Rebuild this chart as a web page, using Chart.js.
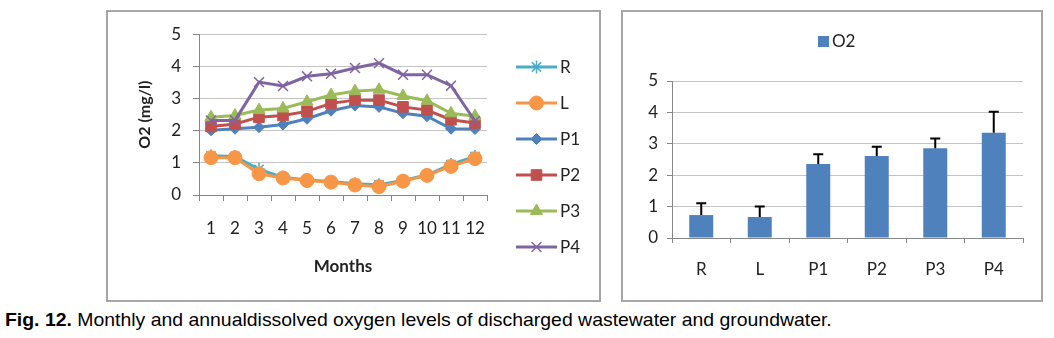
<!DOCTYPE html>
<html>
<head>
<meta charset="utf-8">
<script src="https://cdn.jsdelivr.net/npm/chart.js@4.4.0/dist/chart.umd.min.js"></script>
<style>
  body { margin:0; background:#fff; width:1054px; height:338px; overflow:hidden; position:relative; font-family:Lato, sans-serif; }
  .panel { position:absolute; top:10px; height:292px; box-sizing:border-box; border:2px solid #a6a6a6; background:#fff; }
  #p1 { left:106px; width:495px; }
  #p2 { left:621px; width:422px; }
  .panel canvas { display:block; }
  #cap { position:absolute; left:5px; top:309px; font-family:"Liberation Sans",Arial,sans-serif; font-size:18.5px; white-space:nowrap; transform-origin:0 0; color:#000; }
</style>
</head>
<body>
<div class="panel" id="p1"><canvas id="monthly" width="491" height="288"></canvas></div>
<div class="panel" id="p2"><canvas id="annual" width="418" height="288"></canvas></div>
<div id="cap"><b>Fig. 12.</b> Monthly and annualdissolved oxygen levels of discharged wastewater and groundwater.</div>
<script>
// monthly O2 (mg/l) per site
var months = ['1','2','3','4','5','6','7','8','9','10','11','12'];
var yTicks = [0, 1, 2, 3, 4, 5];
var oR  = [1.22, 1.20, 0.80, 0.55, 0.47, 0.42, 0.35, 0.32, 0.45, 0.62, 0.95, 1.20];
var oL  = [1.16, 1.16, 0.66, 0.53, 0.45, 0.40, 0.31, 0.26, 0.43, 0.61, 0.89, 1.13];
var oP1 = [2.01, 2.06, 2.11, 2.19, 2.37, 2.62, 2.78, 2.74, 2.54, 2.45, 2.06, 2.05];
var oP2 = [2.13, 2.21, 2.42, 2.47, 2.60, 2.85, 2.95, 2.95, 2.74, 2.64, 2.34, 2.24];
var oP3 = [2.42, 2.47, 2.64, 2.69, 2.90, 3.11, 3.23, 3.27, 3.08, 2.93, 2.54, 2.45];
var oP4 = [2.32, 2.32, 3.51, 3.39, 3.69, 3.77, 3.95, 4.10, 3.74, 3.74, 3.40, 2.30];

// annual mean + upper error
var sites  = ['R', 'L', 'P1', 'P2', 'P3', 'P4'];
var o2Mean = [0.73, 0.67, 2.36, 2.61, 2.86, 3.35];
var o2Err  = [0.38, 0.33, 0.31, 0.30, 0.31, 0.67];

var TXT = '#222', AXIS = '#868686', GRID = '#c4c4c4';
Chart.defaults.font.family = 'Lato, sans-serif';
Chart.defaults.font.size = 17;
Chart.defaults.color = TXT;

function setTicks(s) { s.ticks = yTicks.map(function(v){ return { value: v }; }); }

function series(label, data, color, style, radius, bw, order) {
  return {
    label: label, data: data, borderColor: color, backgroundColor: color,
    borderWidth: 3, tension: 0, pointStyle: style, pointRadius: radius,
    pointHoverRadius: radius, pointBackgroundColor: color, pointBorderColor: color,
    pointBorderWidth: bw, order: order
  };
}

// legend: line + marker, drawn on the canvas
var lineLegend = {
  id: 'lineLegend',
  afterDraw: function(chart) {
    var ctx = chart.ctx;
    chart.data.datasets.forEach(function(ds, i) {
      var y = 55 + i * 36, x0 = 408, x1 = 449;
      ctx.save();
      ctx.strokeStyle = ds.borderColor; ctx.lineWidth = 3;
      ctx.beginPath(); ctx.moveTo(x0, y); ctx.lineTo(x1, y); ctx.stroke();
      ctx.fillStyle = ds.pointBackgroundColor; ctx.strokeStyle = ds.pointBorderColor; ctx.lineWidth = ds.pointBorderWidth;
      if (Chart.helpers && Chart.helpers.drawPoint) {
        Chart.helpers.drawPoint(ctx, { pointStyle: ds.pointStyle, radius: ds.pointRadius, rotation: 0, borderWidth: ds.pointBorderWidth }, (x0 + x1) / 2, y);
      }
      ctx.fillStyle = TXT; ctx.font = '17px Lato, sans-serif'; ctx.textBaseline = 'middle';
      ctx.fillText(ds.label, x1 + 3, y + 1);
      ctx.restore();
    });
  }
};

new Chart(document.getElementById('monthly'), {
  type: 'line',
  data: {
    labels: months,
    datasets: [
      series('R',  oR,  '#4BACC6', 'star',     6.5, 1.5, 6),
      series('L',  oL,  '#F79646', 'circle',   7,   1,   5),
      series('P1', oP1, '#4F81BD', 'rectRot',  5.5, 1,   4),
      series('P2', oP2, '#C0504D', 'rect',     7.5, 1,   3),
      series('P3', oP3, '#9BBB59', 'triangle', 7,   1,   2),
      series('P4', oP4, '#8064A2', 'crossRot', 7,   1.5, 1)
    ]
  },
  options: {
    responsive: false, animation: false,
    layout: { padding: { left: 0, top: 21, right: 112, bottom: 0 } },
    plugins: { legend: { display: false }, tooltip: { enabled: false } },
    scales: {
      x: {
        offset: true,
        grid: { offset: true, drawOnChartArea: false, color: AXIS, tickLength: 6 },
        border: { color: AXIS },
        ticks: { autoSkip: false, maxRotation: 0, padding: 17 },
        title: { display: true, text: 'Months', font: { size: 17, weight: 'bold' }, padding: { top: 0, bottom: 23 } },
        afterFit: function(s) { s.height = 105; }
      },
      y: {
        min: 0, max: 5,
        afterBuildTicks: setTicks,
        grid: { color: GRID, tickColor: AXIS, tickLength: 6 },
        border: { color: AXIS },
        ticks: { padding: 12 },
        title: { display: true, text: 'O2 (mg/l)', font: { size: 16, weight: 'bold' }, padding: { top: 27, bottom: 0 } },
        afterFit: function(s) { s.width = 91; }
      }
    }
  },
  plugins: [lineLegend]
});

// error bars (plus side only) + legend for the bar chart
var errorBars = {
  id: 'errorBars',
  afterDatasetsDraw: function(chart) {
    var ctx = chart.ctx, meta = chart.getDatasetMeta(0), ys = chart.scales.y;
    ctx.save();
    ctx.strokeStyle = '#000'; ctx.lineWidth = 2;
    meta.data.forEach(function(bar, i) {
      var top = ys.getPixelForValue(o2Mean[i] + o2Err[i]);
      ctx.beginPath();
      ctx.moveTo(bar.x, bar.y); ctx.lineTo(bar.x, top);
      ctx.moveTo(bar.x - 5, top); ctx.lineTo(bar.x + 5, top);
      ctx.stroke();
    });
    ctx.restore();
  },
  afterDraw: function(chart) {
    var ctx = chart.ctx, ds = chart.data.datasets[0];
    ctx.save();
    ctx.fillStyle = ds.backgroundColor;
    ctx.fillRect(195, 24, 11, 11);
    ctx.fillStyle = TXT; ctx.font = '17px Lato, sans-serif'; ctx.textBaseline = 'middle';
    ctx.fillText(ds.label, 209, 30);
    ctx.restore();
  }
};

new Chart(document.getElementById('annual'), {
  type: 'bar',
  data: {
    labels: sites,
    datasets: [{ label: 'O2', data: o2Mean, backgroundColor: '#4F81BD', categoryPercentage: 1, barPercentage: 0.41 }]
  },
  options: {
    responsive: false, animation: false,
    layout: { padding: { left: 0, top: 69, right: 18, bottom: 0 } },
    plugins: { legend: { display: false }, tooltip: { enabled: false } },
    scales: {
      x: {
        grid: { offset: true, drawOnChartArea: false, color: AXIS, tickLength: 5 },
        border: { color: AXIS },
        ticks: { padding: 16 },
        afterFit: function(s) { s.height = 62; }
      },
      y: {
        min: 0, max: 5,
        afterBuildTicks: setTicks,
        grid: { color: GRID, tickColor: AXIS, tickLength: 5 },
        border: { color: AXIS },
        ticks: { padding: 9 },
        afterFit: function(s) { s.width = 49; }
      }
    }
  },
  plugins: [errorBars]
});

// squeeze caption to the reference width (narrow face)
var cap = document.getElementById('cap');
cap.style.transform = 'scaleX(' + (827 / cap.scrollWidth) + ')';
</script>
</body>
</html>
